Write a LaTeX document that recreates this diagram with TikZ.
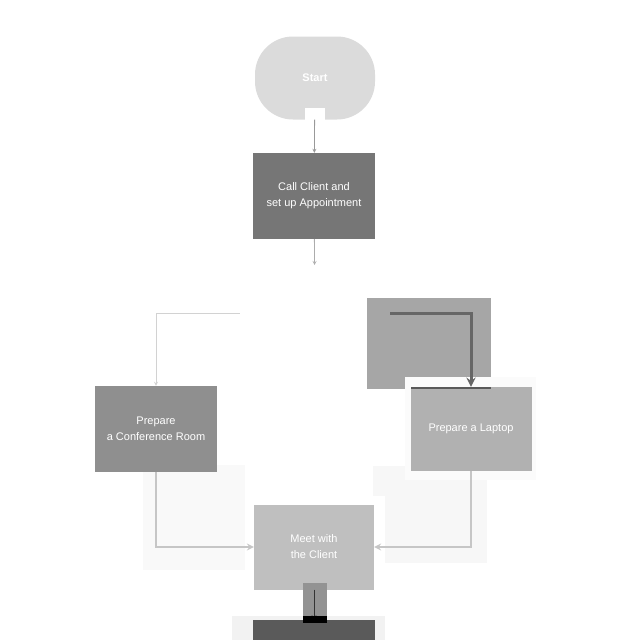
\documentclass[tikz,border=0pt]{standalone}
\usepackage{fontspec}
\setmainfont{Liberation Sans}
\usetikzlibrary{shapes.geometric}

\definecolor{startgray}{HTML}{DBDBDB}
\definecolor{callgray}{HTML}{767676}
\definecolor{roomgray}{HTML}{8F8F8F}
\definecolor{laptopgray}{HTML}{B1B1B1}
\definecolor{meetgray}{HTML}{BFBFBF}
\definecolor{endgray}{HTML}{5A5A5A}

\begin{document}
\begin{tikzpicture}[x=1pt, y=-1pt,
    box/.style={rectangle, minimum width=122pt, minimum height=86pt, inner sep=0pt,
      text=white, align=center, font=\fontsize{11}{16}\selectfont},
    link/.style={->, >=stealth, line width=0.8pt}]
    \useasboundingbox (0,0) rectangle (640,640);
    \clip (0,0) rectangle (640,640);

    % Fundos claros
    \fill[gray!5] (143,465) rectangle (245,570);
    \fill[gray!6] (373,466) rectangle (487,563);
    \fill[gray!10] (232,616) rectangle (385,640);

    % Nos
    \node[box, fill=startgray, minimum width=120pt, minimum height=83pt, rounded corners=38pt, font=\fontsize{11}{16}\selectfont\bfseries] (start) at (315,78) {Start};
    \fill[white] (305,108) rectangle (325,121);
    \node[box, fill=callgray] (call) at (314,196) {Call Client and\\set up Appointment};
    \node[diamond, fill=white, minimum width=150pt, minimum height=96pt, inner sep=0pt] (decide) at (315,313) {};
    \fill[gray!70] (367,298) rectangle (491,389);
    \node[box, fill=roomgray] (room) at (156,429) {Prepare\\a Conference Room};
    \fill[gray!3] (405,377) rectangle (536,480);
    \node[box, fill=laptopgray, minimum width=121pt, minimum height=84pt] (laptop) at (471,429) {Prepare a Laptop};
    \fill[white] (245,496) rectangle (385,600);
    \node[box, fill=meetgray, minimum width=120pt, minimum height=85pt] (meet) at (314,547) {Meet with\\the Client};
    \node[box, fill=endgray] (finish) at (314,663) {};

    % Conectores
    \draw[link, gray!80] (start) -- (call);
    \draw[link, gray!65] (call) -- (decide);
    \draw[link, gray!35] (decide.west) -| (room.north);
    \draw[->, >=stealth, line width=3pt, black!60] (decide.east) -| (laptop.north);
    \draw[black!65, line width=2pt] (411,388) -- (491,388);
    \draw[link, gray!45, line width=2pt] (room.south) |- (meet.west);
    \draw[link, gray!45, line width=2pt] (laptop.south) |- (meet.east);
    \fill[gray!85] (303,583) rectangle (327,620);
    \draw[link, black!80, line width=1pt] (meet) -- (finish);
    \fill[black] (303,616) rectangle (327,623);
  \end{tikzpicture}
\end{document}
